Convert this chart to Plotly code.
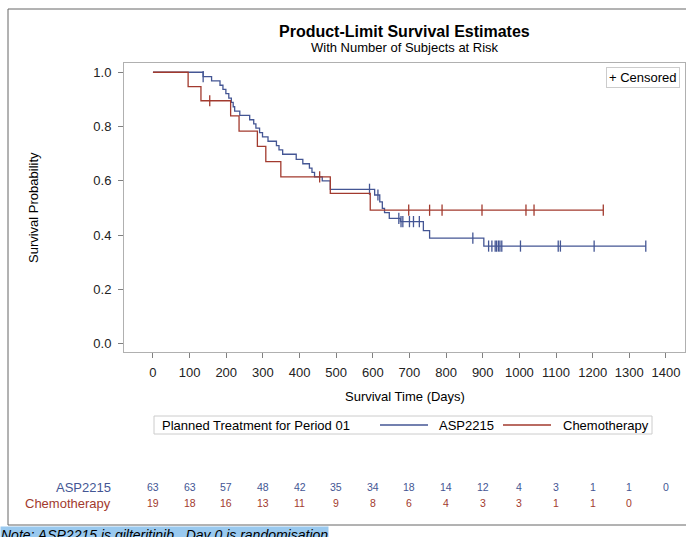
import numpy as np
import plotly.graph_objects as go

# ---- data ----
asp_time = [0, 137, 160, 183, 191, 199, 207, 214, 219, 223, 237, 264, 275, 281, 291, 299,
            314, 337, 344, 354, 391, 409, 427, 434, 441, 462, 484, 605, 619, 626, 632, 645,
            675, 738, 755, 903]
asp_surv = [1.0, 0.984, 0.968, 0.952, 0.937, 0.921, 0.905, 0.889, 0.873, 0.857, 0.841, 0.825,
            0.810, 0.794, 0.778, 0.762, 0.746, 0.730, 0.714, 0.698, 0.679, 0.663, 0.647, 0.631,
            0.615, 0.600, 0.569, 0.548, 0.523, 0.499, 0.483, 0.462, 0.450, 0.417, 0.389, 0.360]
asp_cens = [137, 591, 614, 671, 677, 682, 700, 711, 727, 873, 916, 925, 934, 938, 943, 947,
            952, 1003, 1106, 1112, 1204, 1345]

chemo_time = [0, 96, 131, 212, 235, 285, 308, 349, 484, 593]
chemo_surv = [1.0, 0.947, 0.895, 0.839, 0.783, 0.727, 0.671, 0.615, 0.554, 0.492]
chemo_cens = [155, 455, 698, 755, 789, 898, 1018, 1040, 1229]

risk_times = [0, 100, 200, 300, 400, 500, 600, 700, 800, 900, 1000, 1100, 1200, 1300, 1400]
asp_risk = [63, 63, 57, 48, 42, 35, 34, 18, 14, 12, 4, 3, 1, 1, 0]
chemo_risk = [19, 18, 16, 13, 11, 9, 8, 6, 4, 3, 3, 1, 1, 0]

group_names = ["ASP2215", "Chemotherapy"]
legend_title = "Planned Treatment for Period 01"

BLUE = "#445694"
RED = "#A23A2E"
FONT = "Liberation Sans, Arial, sans-serif"


def surv_at(times, survs, t):
    idx = np.searchsorted(np.array(times), t, side="right") - 1
    return survs[idx]


fig = go.Figure()

for name, tt, ss, cc, col in [(group_names[0], asp_time, asp_surv, asp_cens, BLUE),
                              (group_names[1], chemo_time, chemo_surv, chemo_cens, RED)]:
    xs = list(tt) + [max(cc)]
    ys = list(ss) + [ss[-1]]
    fig.add_trace(go.Scatter(x=xs, y=ys, mode="lines", line=dict(color=col, width=1.3, shape="hv"),
                             name=name, showlegend=False, hoverinfo="skip"))
    fig.add_trace(go.Scatter(x=cc, y=[surv_at(tt, ss, c) for c in cc], mode="markers",
                             marker=dict(symbol="line-ns", size=8, line=dict(color=col, width=1.3)),
                             showlegend=False, hoverinfo="skip"))

# plot area geometry (pixels)
L, R, T, B = 124, 685, 63, 352
W, H = 686, 537
pw, ph = R - L, B - T


def px(x):
    return (x - L) / pw


def py(y):
    return (B - y) / ph


ann = []
ann.append(dict(text="<b>Product-Limit Survival Estimates</b>", x=0.5, y=py(31), xref="paper", yref="paper",
                showarrow=False, font=dict(size=16, color="#000", family=FONT), xanchor="center", yanchor="middle"))
ann.append(dict(text="With Number of Subjects at Risk", x=0.5, y=py(47), xref="paper", yref="paper",
                showarrow=False, font=dict(size=13, color="#000", family=FONT), xanchor="center", yanchor="middle"))
ann.append(dict(text="Survival Probability", x=px(33), y=py(208), xref="paper", yref="paper", textangle=-90,
                showarrow=False, font=dict(size=13, color="#000", family=FONT), xanchor="center", yanchor="middle"))
ann.append(dict(text="Survival Time (Days)", x=0.5, y=py(396), xref="paper", yref="paper",
                showarrow=False, font=dict(size=13, color="#000", family=FONT), xanchor="center", yanchor="middle"))
ann.append(dict(text="+ Censored", x=px(680), y=py(67), xref="paper", yref="paper", showarrow=False,
                font=dict(size=13, color="#000", family=FONT), xanchor="right", yanchor="top",
                bordercolor="#cccccc", borderwidth=1, borderpad=2, bgcolor="white"))

# legend (drawn as box + text + line samples)
LY = 425
ann.append(dict(text=legend_title, x=px(160), y=py(LY), xref="paper", yref="paper", showarrow=False,
                font=dict(size=13, color="#000", family=FONT), xanchor="left", yanchor="middle"))
ann.append(dict(text=group_names[0], x=px(437), y=py(LY), xref="paper", yref="paper", showarrow=False,
                font=dict(size=13, color="#000", family=FONT), xanchor="left", yanchor="middle"))
ann.append(dict(text=group_names[1], x=px(561), y=py(LY), xref="paper", yref="paper", showarrow=False,
                font=dict(size=13, color="#000", family=FONT), xanchor="left", yanchor="middle"))

# at-risk table
ann.append(dict(text=group_names[0], x=px(113), y=py(487), xref="paper", yref="paper", showarrow=False,
                font=dict(size=13, color=BLUE, family=FONT), xanchor="right", yanchor="middle"))
ann.append(dict(text=group_names[1], x=px(113), y=py(503), xref="paper", yref="paper", showarrow=False,
                font=dict(size=13, color=RED, family=FONT), xanchor="right", yanchor="middle"))
for t, n in zip(risk_times, asp_risk):
    ann.append(dict(text=str(n), x=t, y=py(487), xref="x", yref="paper", showarrow=False,
                    font=dict(size=10.5, color=BLUE, family=FONT), xanchor="center", yanchor="middle"))
for t, n in zip(risk_times, chemo_risk):
    ann.append(dict(text=str(n), x=t, y=py(503), xref="x", yref="paper", showarrow=False,
                    font=dict(size=10.5, color=RED, family=FONT), xanchor="center", yanchor="middle"))

ann.append(dict(text="<i>Note: ASP2215 is gilteritinib.  Day 0 is randomisation</i>", x=px(0), y=py(526),
                xref="paper", yref="paper", showarrow=False, xanchor="left", yanchor="top",
                font=dict(size=14, color="#000", family=FONT), bgcolor="#99c9ef", borderpad=0))

shapes = [
    dict(type="rect", xref="paper", yref="paper", x0=px(8), x1=px(700), y0=py(525), y1=py(9),
         line=dict(color="#666666", width=1), fillcolor="rgba(0,0,0,0)", layer="below"),
    dict(type="rect", xref="paper", yref="paper", x0=px(154), x1=px(652), y0=py(434), y1=py(416),
         line=dict(color="#cccccc", width=1), fillcolor="white"),
    dict(type="line", xref="paper", yref="paper", x0=px(380), x1=px(428), y0=py(LY), y1=py(LY),
         line=dict(color=BLUE, width=1.3)),
    dict(type="line", xref="paper", yref="paper", x0=px(503), x1=px(551), y0=py(LY), y1=py(LY),
         line=dict(color=RED, width=1.3)),
]

fig.update_layout(
    width=W, height=H, autosize=False,
    margin=dict(l=L, r=W - R, t=T, b=H - B),
    paper_bgcolor="white", plot_bgcolor="white",
    font=dict(family=FONT, size=13, color="#000"),
    annotations=ann, shapes=shapes, showlegend=False,
    xaxis=dict(range=[-79, 1452], tickmode="array", tickvals=risk_times, ticks="outside", ticklen=5,
               tickcolor="#808080", showgrid=False, zeroline=False, showline=True, linecolor="#b0b0b0",
               mirror=True, tickfont=dict(size=13, color="#222"), fixedrange=True, ticklabelstandoff=3),
    yaxis=dict(range=[-0.03, 1.034], tickvals=[0, 0.2, 0.4, 0.6, 0.8, 1.0], tickformat=".1f",
               ticks="outside", ticklen=5, tickcolor="#808080", showgrid=False, zeroline=False,
               showline=True, linecolor="#b0b0b0", mirror=True, tickfont=dict(size=13, color="#222"),
               fixedrange=True, ticklabelstandoff=4),
)

fig.write_html("out.html")
